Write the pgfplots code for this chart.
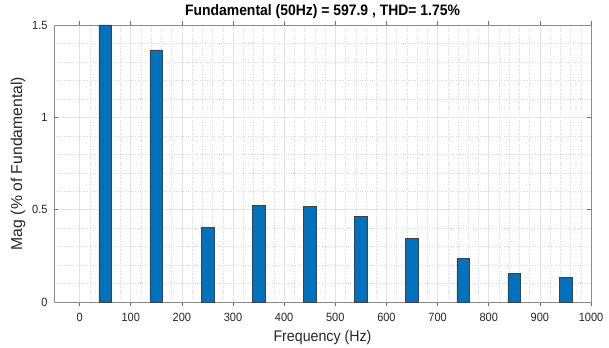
\documentclass[border=0pt]{standalone}
\usepackage{pgfplots}
\pgfplotsset{compat=1.18}
\usepackage{fontspec}
\setmainfont{Liberation Sans}[FakeStretch=0.92]
\newfontfamily\plainfont{Liberation Sans}
\definecolor{mblue}{RGB}{0,114,189}
\definecolor{txt}{RGB}{38,38,38}
\begin{document}
\begin{tikzpicture}
\begin{axis}[
  name=ax,
  scale only axis,
  width=537bp, height=277bp,
  xmin=-50, xmax=1000,
  ymin=0, ymax=1.5,
  xtick={0,100,...,1000},
  ytick={0,0.5,1,1.5},
  minor x tick num=4,
  minor y tick num=4,
  grid=both,
  major grid style={gray!22, line width=0.5pt},
  minor grid style={gray!30, dotted, line width=0.4pt},
  minor tick length=0pt,
  major tick length=4bp,
  tick align=inside,
  axis line style={black!45, line width=0.6pt},
  every tick/.style={black!55, line width=0.5pt},
  tick label style={font=\fontsize{12}{14}\selectfont, text=txt},
  x tick label style={yshift=-4bp},
  y tick label style={xshift=-3bp},
  /pgf/number format/assume math mode=true,
  /pgf/number format/1000 sep={},
  xlabel={Frequency (Hz)},
  ylabel={\plainfont Mag (\% of Fundamental)},
  xlabel style={font=\fontsize{15.5}{17}\selectfont, text=txt, at={(axis description cs:0.5,0)}, anchor=center, yshift=-36bp},
  ylabel style={font=\fontsize{15.8}{17}\selectfont, text=txt, at={(axis description cs:0,0.5)}, anchor=center, yshift=36bp},
  title={\textbf{Fundamental (50Hz) = 597.9 , THD= 1.75\%}},
  title style={font=\fontsize{15.2}{17}\selectfont, at={(axis description cs:0.5,1)}, anchor=center, yshift=7bp},
  ybar, bar width=25,
  clip=true,
]
\addplot[fill=mblue, draw=black!75, line width=0.5pt] coordinates {
(50,1.5) (150,1.365) (250,0.406) (350,0.523) (450,0.516)
(550,0.464) (650,0.344) (750,0.236) (850,0.156) (950,0.135)
};
\end{axis}
\pgfresetboundingbox
\path ([shift={(-54bp,-46bp)}]ax.south west) rectangle ([shift={(18bp,25bp)}]ax.north east);
\end{tikzpicture}
\end{document}
